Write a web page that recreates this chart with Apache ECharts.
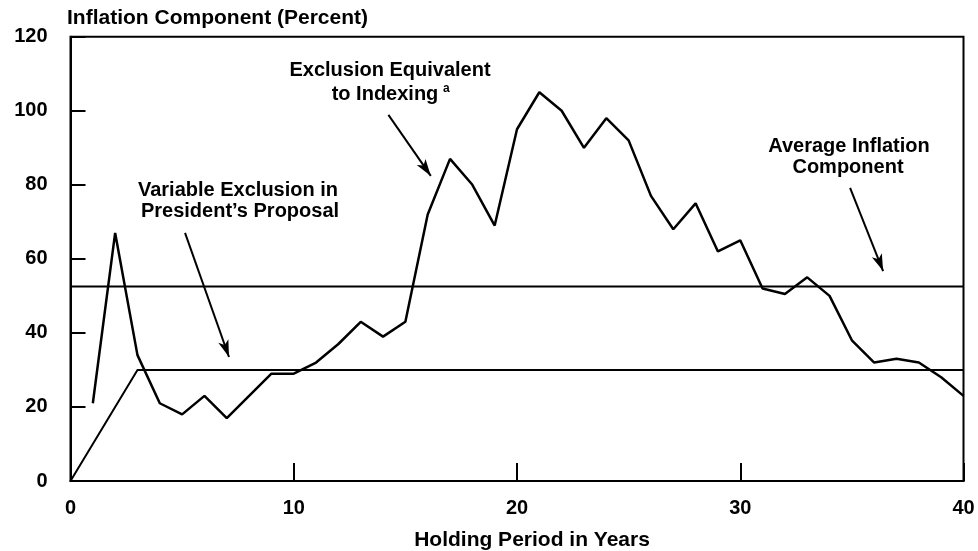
<!DOCTYPE html>
<html>
<head>
<meta charset="utf-8">
<script src="https://cdn.jsdelivr.net/npm/echarts@6/dist/echarts.min.js"></script>
<style>
html,body{margin:0;padding:0;background:#fff;}
#chart{width:978px;height:551px;}
</style>
</head>
<body>
<div id="chart"></div>
<script>
// ---- data ----
const indexingYears = [1,2,3,4,5,6,7,8,9,10,11,12,13,14,15,16,17,18,19,20,21,22,23,24,25,26,27,28,29,30,31,32,33,34,35,36,37,38,39,40];
const indexingValues = [21,67,34,21,18,23,17,23,29,29,32,37,43,39,43,72,87,80,69,95,105,100,90,98,92,77,68,75,62,65,52,50.5,55,50,38,32,33,32,28,23];
const proposalYears = [0,3,40];
const proposalValues = [0,30,30];
const averageYears = [0,40];
const averageValues = [52.5,52.5];
const xTicks = [0,10,20,30,40];
const yTicks = [0,20,40,60,80,100,120];
// annotation arrows in data units: [x1,y1,x2,y2]
const arrowProposal = [5.13,67.0,7.1,33.5];
const arrowIndexing = [14.24,98.9,16.14,82.4];
const arrowAverage = [34.92,79.2,36.4,56.7];

const FONT = '"Liberation Sans", Arial, sans-serif';
const chart = echarts.init(document.getElementById('chart'));

function zip(xs, ys){ return xs.map((x,i)=>[x, ys[i]]); }
function arrow(a){
  return [{coord:[a[0],a[1]]},{coord:[a[2],a[3]]}];
}

const txt = (text, x, y, align, size) => ({
  type:'text', x:x, y:y,
  style:{text:text, fill:'#000', font:'bold ' + (size||20) + 'px ' + FONT, textAlign:align||'center', textVerticalAlign:'middle'}
});

chart.setOption({
  animation:false,
  backgroundColor:'#fff',
  grid:{left:70.5, right:14.5, top:36.7, bottom:70, show:true, borderColor:'#000', borderWidth:2},
  xAxis:{
    type:'value', min:xTicks[0], max:xTicks[xTicks.length-1], interval:10,
    axisLine:{show:true, onZero:false, lineStyle:{color:'#000', width:2}},
    axisTick:{show:true, inside:true, length:18, lineStyle:{color:'#000', width:2}},
    axisLabel:{margin:17, color:'#000', fontSize:20, fontWeight:'bold', fontFamily:FONT},
    splitLine:{show:false}
  },
  yAxis:{
    type:'value', min:yTicks[0], max:yTicks[yTicks.length-1], interval:20,
    axisLine:{show:true, lineStyle:{color:'#000', width:2}},
    axisTick:{show:true, inside:true, length:15, lineStyle:{color:'#000', width:2}},
    axisLabel:{margin:23, color:'#000', fontSize:20, fontWeight:'bold', fontFamily:FONT},
    splitLine:{show:false}
  },
  series:[
    {
      type:'line', data:zip(indexingYears, indexingValues), symbol:'none',
      lineStyle:{color:'#000', width:2.5}, z:3,
      markLine:{
        silent:true, symbol:['none','arrow'], symbolSize:[8,17],
        lineStyle:{color:'#000', width:2, type:'solid'}, label:{show:false},
        data:[arrow(arrowProposal), arrow(arrowIndexing), arrow(arrowAverage)]
      }
    },
    {
      type:'line', data:zip(proposalYears, proposalValues), symbol:'none',
      lineStyle:{color:'#000', width:2}, z:2
    },
    {
      type:'line', data:zip(averageYears, averageValues), symbol:'none',
      lineStyle:{color:'#000', width:2}, z:2
    }
  ],
  graphic:[
    txt('Inflation Component (Percent)', 67, 18, 'left', 21),
    txt('Holding Period in Years', 532, 540, 'center', 21),
    txt('Variable Exclusion in', 238, 190),
    txt('President\u2019s Proposal', 240, 211),
    txt('Exclusion Equivalent', 390, 70),
    txt('to Indexing', 385, 94),
    {type:'text', x:443, y:89, style:{text:'a', fill:'#000', font:'bold 12px ' + FONT, textAlign:'left', textVerticalAlign:'middle'}},
    txt('Average Inflation', 849, 146),
    txt('Component', 848, 167)
  ]
});
</script>
</body>
</html>
